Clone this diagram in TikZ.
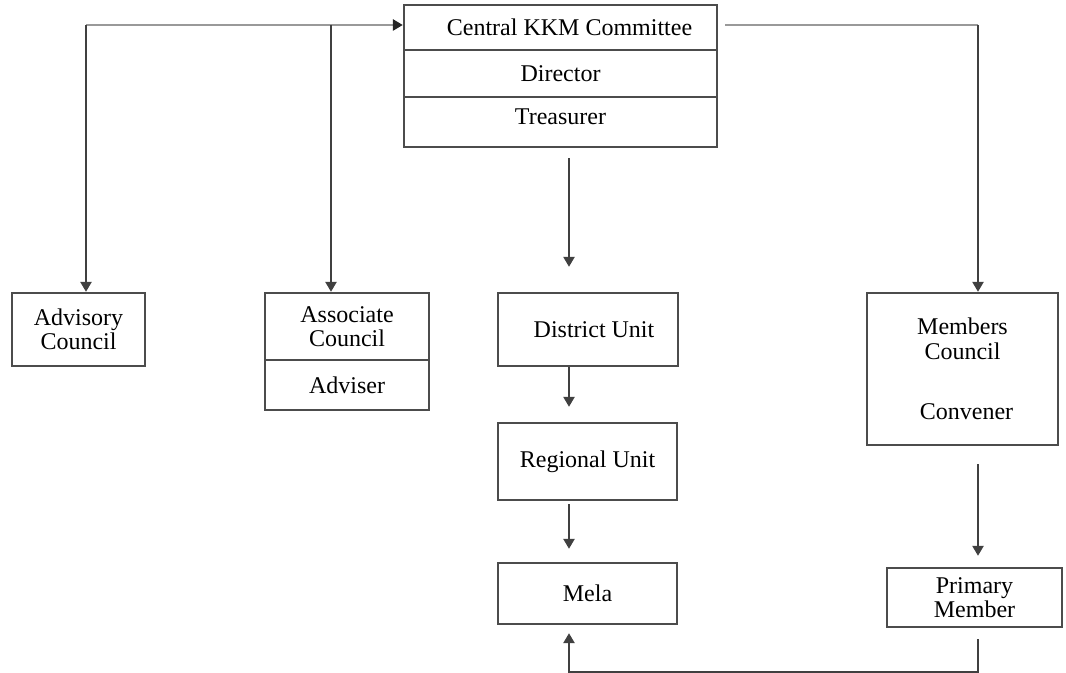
\documentclass[tikz,border=0pt]{standalone}
\usepackage{fontspec}
\setmainfont{Liberation Serif}
\usepackage{xcolor}
\usetikzlibrary{shapes,arrows.meta,positioning}

\tikzset{
    unit/.style={
        draw=black!70,
        line width=0.4mm,
        inner sep=2pt,
        align=center
    },
    link/.style={
        draw=black!75,
        line width=0.4mm,
        -{Triangle[length=5pt,width=5.5pt]}
    },
    feed/.style={
        draw=black!40,
        line width=0.45mm
    }
}

\begin{document}
\begin{tikzpicture}[x=0.5pt, y=-0.5pt, font=\fontsize{12}{12.2}\selectfont]
                \useasboundingbox (0,0) rectangle (1066,673);

                % central committee
                \node[unit, minimum width=156.5pt, minimum height=22.5pt] (ckkm) at (560.5,27.5) {\hspace*{9pt}Central KKM Committee};
                \node[unit, minimum width=156.5pt, minimum height=23.5pt] (director) at (560.5,73.5) {Director};
                \node[unit, minimum width=156.5pt, minimum height=25pt] (treasurer) at (560.5,122) {\raisebox{2.5pt}[\height][\depth]{Treasurer}};

                % councils
                \node[unit, minimum width=66.5pt, minimum height=36.5pt] (advisory) at (78.5,329.5) {Advisory\\Council};
                \node[unit, minimum width=82pt, minimum height=33.5pt] (assoc) at (347,326.5) {Associate\\Council};
                \node[unit, minimum width=82pt, minimum height=25pt] (adviser) at (347,385) {Adviser};
                \node[unit, minimum width=95.5pt, minimum height=76pt] (members) at (962.5,369) {Members\\Council\\[18pt]\hspace*{4pt}Convener};
                \node[unit, minimum width=87.5pt, minimum height=29.5pt] (primary) at (974.5,597.5) {Primary\\Member};

                % units
                \node[unit, minimum width=90pt, minimum height=36.5pt] (district) at (588,329.5) {\hspace*{6pt}District Unit};
                \node[unit, minimum width=89.5pt, minimum height=38.5pt] (regional) at (587.5,461.5) {Regional Unit};
                \node[unit, minimum width=89.5pt, minimum height=30.5pt] (mela) at (587.5,593.5) {Mela};

                \coordinate (lcorner) at (86,25);
                \coordinate (ljoin) at (331,25);
                \coordinate (rcorner) at (978,25);
                \coordinate (cx) at (569,0);
                \coordinate (rbot) at (978,672);
                \coordinate (mbot) at (569,672);

                \draw[
                    feed,
                    -{Triangle[length=5pt,width=5.5pt,color=black!85]}
                ] (lcorner) -- (lcorner -| ckkm.west);

                \draw[link] (lcorner) -- (lcorner |- advisory.north);
                \draw[link] (ljoin) -- (ljoin |- assoc.north);

                \draw[
                    feed,
                    shorten <=3.5pt
                ] (rcorner -| ckkm.east) -- (rcorner);

                \draw[link] (rcorner) -- (rcorner |- members.north);

                \draw[
                    link,
                    shorten <=5pt,
                    shorten >=12.5pt
                ] (cx |- treasurer.south) -- (cx |- district.north);

                \draw[
                    link,
                    shorten >=7.5pt
                ] (cx |- district.south) -- (cx |- regional.north);

                \draw[
                    link,
                    shorten <=1.5pt,
                    shorten >=6.5pt
                ] (cx |- regional.south) -- (cx |- mela.north);

                \draw[
                    link,
                    shorten <=9pt,
                    shorten >=5.5pt
                ] (rcorner |- members.south) -- (rcorner |- primary.north);

                \draw[
                    link,
                    shorten <=5.5pt,
                    shorten >=4pt
                ] (rbot |- primary.south) -- (rbot) -- (mbot) -- (mbot |- mela.south);

            \end{tikzpicture}
\end{document}
